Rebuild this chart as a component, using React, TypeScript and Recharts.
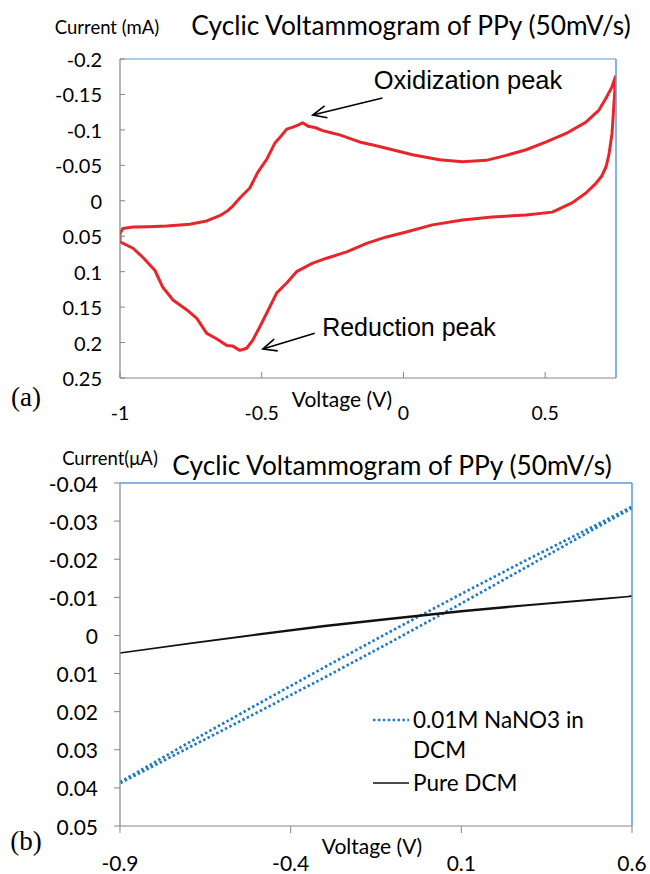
import React from 'react';
import { LineChart, Line, XAxis, YAxis, ReferenceLine, Legend } from 'recharts';

// ---------- (a) CV of PPy ----------
const cvVoltage = [
  -1.0, -0.99, -0.954, -0.9, -0.835, -0.754, -0.694, -0.648, -0.62, -0.602, -0.577, -0.542, -0.514, -0.483,
  -0.454, -0.43, -0.412, -0.39, -0.37, -0.356, -0.335, -0.31, -0.285, -0.255, -0.225, -0.155, -0.1, -0.06,
  0.032, 0.127, 0.208, 0.292, 0.363, 0.433, 0.504, 0.574, 0.644, 0.69, 0.715, 0.735, 0.748,
  0.745, 0.736, 0.725, 0.715, 0.7, 0.68, 0.644, 0.595, 0.525, 0.433, 0.313, 0.208, 0.102, 0.01, -0.06,
  -0.13, -0.2, -0.271, -0.32, -0.377, -0.412, -0.447, -0.483, -0.507, -0.532, -0.553, -0.577, -0.602,
  -0.623, -0.658, -0.694, -0.729, -0.764, -0.813, -0.849, -0.877, -0.919, -0.954, -1.0, -1.0,
];
const cvCurrent = [
  0.046, 0.039, 0.037, 0.0365, 0.0355, 0.033, 0.0285, 0.021, 0.014, 0.0075, -0.004, -0.018, -0.04, -0.058,
  -0.081, -0.092, -0.101, -0.104, -0.107, -0.11, -0.105, -0.103, -0.099, -0.096, -0.093, -0.083, -0.078, -0.074,
  -0.065, -0.058, -0.055, -0.057, -0.064, -0.072, -0.083, -0.095, -0.111, -0.128, -0.145, -0.16, -0.175,
  -0.15, -0.095, -0.065, -0.048, -0.035, -0.025, -0.011, 0.003, 0.016, 0.02, 0.023, 0.027, 0.034, 0.044, 0.051,
  0.06, 0.072, 0.081, 0.088, 0.1, 0.116, 0.13, 0.159, 0.178, 0.197, 0.208, 0.211, 0.205,
  0.204, 0.195, 0.187, 0.166, 0.154, 0.14, 0.122, 0.098, 0.08, 0.067, 0.058, 0.046,
];
const cvData = cvVoltage.map((v, k) => ({ v, i: cvCurrent[k] }));

const topXTicks = [-1, -0.5, 0, 0.5];
const topYTicks = [-0.2, -0.15, -0.1, -0.05, 0, 0.05, 0.1, 0.15, 0.2, 0.25];

// annotation arrows: [tail, tip] in data units (V, mA)
const oxArrow = [{ x: -0.074, y: -0.145 }, { x: -0.32, y: -0.121 }];
const redArrow = [{ x: -0.313, y: 0.187 }, { x: -0.496, y: 0.209 }];

// ---------- (b) NaNO3 vs pure DCM ----------
const naVoltage = [-0.9, -0.7, -0.5, -0.3, -0.1, 0.1, 0.3, 0.5, 0.6, 0.6, 0.5, 0.3, 0.1, -0.1, -0.3, -0.5, -0.7, -0.9];
const naCurrent = [
  0.0385, 0.0282, 0.0182, 0.0083, -0.0014, -0.0109, -0.0202, -0.0292, -0.0338,
  -0.0334, -0.0285, -0.0184, -0.0084, 0.0014, 0.011, 0.0203, 0.0295, 0.0388,
];
const naData = naVoltage.map((v, k) => ({ v, i: naCurrent[k] }));

const dcmVoltage = [-0.9, -0.7, -0.5, -0.3, -0.1, 0.1, 0.3, 0.5, 0.6, 0.6, 0.5, 0.3, 0.1, -0.1, -0.3, -0.5, -0.7, -0.9];
const dcmCurrent = [
  0.0046, 0.0021, -0.0003, -0.0026, -0.0046, -0.0065, -0.0081, -0.0096, -0.0103,
  -0.0103, -0.0094, -0.0079, -0.0062, -0.0043, -0.0023, -0.0001, 0.0022, 0.0046,
];
const dcmData = dcmVoltage.map((v, k) => ({ v, i: dcmCurrent[k] }));

const bottomXTicks = [-0.9, -0.4, 0.1, 0.6];
const bottomYTicks = [-0.04, -0.03, -0.02, -0.01, 0, 0.01, 0.02, 0.03, 0.04, 0.05];

const FONT = 'Lato, "Noto Sans", sans-serif';
const GRAY = '#868686';
const BLUE_BORDER = '#5b9bd5';

const makeXTick = (inward: boolean, labelOffset: number, size: number) => (p: any) => {
  const { x, y, payload } = p;
  return (
    <g>
      <line x1={x} y1={y} x2={x} y2={inward ? y - 6 : y + 7} stroke={GRAY} strokeWidth={1} />
      <text x={x} y={y + labelOffset} textAnchor="middle" dominantBaseline="central" fontFamily={FONT} fontSize={size} fill="#000">
        {String(payload.value)}
      </text>
    </g>
  );
};

const makeYTick = (inward: boolean, gap: number, size: number) => (p: any) => {
  const { x, y, payload } = p;
  return (
    <g>
      <line x1={x} y1={y} x2={inward ? x + 5 : x - 6} y2={y} stroke={GRAY} strokeWidth={1} />
      <text x={x - gap} y={y} textAnchor="end" dominantBaseline="central" fontFamily={FONT} fontSize={size} fill="#000">
        {String(payload.value)}
      </text>
    </g>
  );
};

const ArrowShape = (p: any) => {
  const { x1, y1, x2, y2 } = p;
  const ang = Math.atan2(y2 - y1, x2 - x1);
  const L = 15;
  const w = 0.42;
  const ax = x2 - L * Math.cos(ang - w);
  const ay = y2 - L * Math.sin(ang - w);
  const bx = x2 - L * Math.cos(ang + w);
  const by = y2 - L * Math.sin(ang + w);
  return (
    <g>
      <line x1={x1} y1={y1} x2={x2} y2={y2} stroke="#000" strokeWidth={1.6} />
      <polyline points={`${ax},${ay} ${x2},${y2} ${bx},${by}`} fill="none" stroke="#000" strokeWidth={1.6} />
    </g>
  );
};

const LegendContent = (props: any) => {
  const items = props.payload || [];
  return (
    <div style={{ fontFamily: FONT, fontSize: 22.5, lineHeight: '30px', color: '#000' }}>
      {items.map((it: any, k: number) => {
        const dash = it.payload && it.payload.strokeDasharray;
        const sw = (it.payload && it.payload.strokeWidth) || 1.5;
        return (
          <div key={k} style={{ display: 'flex', alignItems: 'flex-start', marginTop: k === 0 ? 0 : 3 }}>
            <svg width={41} height={30} style={{ flex: 'none' }}>
              <line x1={1} y1={15} x2={37} y2={15} stroke={it.color} strokeWidth={sw} strokeDasharray={dash} />
            </svg>
            <div style={{ width: 195 }}>{it.value}</div>
          </div>
        );
      })}
    </div>
  );
};

export default function App() {
  return (
    <div style={{ position: 'absolute', left: 0, top: 0, width: 650, height: 874, background: '#fff' }}>
      {/* (a) */}
      <div style={{ position: 'absolute', left: 0, top: 0 }}>
        <LineChart width={650} height={430} margin={{ top: 58, right: 33, bottom: 51, left: 119 }}>
          <XAxis xAxisId="top" orientation="top" type="number" dataKey="v" domain={[-1, 0.75]} height={1}
            axisLine={{ stroke: BLUE_BORDER, strokeWidth: 1.2 }} tick={false} tickLine={false} allowDataOverflow />
          <YAxis yAxisId="right" orientation="right" type="number" domain={[-0.2, 0.25]} width={1}
            axisLine={{ stroke: BLUE_BORDER, strokeWidth: 1.5 }} tick={false} tickLine={false} allowDataOverflow />
          <XAxis type="number" dataKey="v" domain={[-1, 0.75]} ticks={topXTicks} height={1}
            axisLine={{ stroke: GRAY, strokeWidth: 1.2 }} tickLine={false} tickSize={0} tickMargin={0}
            tick={makeXTick(true, 34, 19.5)} allowDataOverflow interval={0} />
          <YAxis type="number" domain={[-0.2, 0.25]} reversed ticks={topYTicks} width={1}
            axisLine={{ stroke: GRAY, strokeWidth: 1.2 }} tickLine={false} tickSize={0} tickMargin={0}
            tick={makeYTick(true, 18, 20)} allowDataOverflow interval={0} />
          <Line data={cvData} dataKey="i" type="linear" stroke="#e8262a" strokeWidth={3} dot={false}
            isAnimationActive={false} strokeLinejoin="round" />
          <ReferenceLine segment={oxArrow} shape={ArrowShape} ifOverflow="visible" />
          <ReferenceLine segment={redArrow} shape={ArrowShape} ifOverflow="visible" />
        </LineChart>
      </div>

      {/* (b) */}
      <div style={{ position: 'absolute', left: 0, top: 440 }}>
        <LineChart width={650} height={434} margin={{ top: 42, right: 17, bottom: 47, left: 119 }}>
          <XAxis xAxisId="top" orientation="top" type="number" dataKey="v" domain={[-0.9, 0.6]} height={1}
            axisLine={{ stroke: BLUE_BORDER, strokeWidth: 1.5 }} tick={false} tickLine={false} allowDataOverflow />
          <YAxis yAxisId="right" orientation="right" type="number" domain={[-0.04, 0.05]} width={1}
            axisLine={{ stroke: BLUE_BORDER, strokeWidth: 1.5 }} tick={false} tickLine={false} allowDataOverflow />
          <XAxis type="number" dataKey="v" domain={[-0.9, 0.6]} ticks={bottomXTicks} height={1}
            axisLine={{ stroke: GRAY, strokeWidth: 1.2 }} tickLine={false} tickSize={0} tickMargin={0}
            tick={makeXTick(false, 36, 21)} allowDataOverflow interval={0} />
          <YAxis type="number" domain={[-0.04, 0.05]} reversed ticks={bottomYTicks} width={1}
            axisLine={{ stroke: GRAY, strokeWidth: 1.2 }} tickLine={false} tickSize={0} tickMargin={0}
            tick={makeYTick(false, 22, 21)} allowDataOverflow interval={0} />
          <Line data={naData} dataKey="i" name="0.01M NaNO3 in DCM" type="linear" stroke="#1f7ac8" strokeWidth={2.7}
            strokeDasharray="2.5 2.4" dot={false} isAnimationActive={false} />
          <Line data={dcmData} dataKey="i" name="Pure DCM" type="linear" stroke="#111" strokeWidth={1.4}
            dot={false} isAnimationActive={false} />
          <Legend layout="vertical" align="center" verticalAlign="middle" content={LegendContent}
            wrapperStyle={{ position: 'absolute', left: 372, top: 265, width: 245, height: 100 }} />
        </LineChart>
      </div>

      {/* text overlay */}
      <svg width={650} height={874} style={{ position: 'absolute', left: 0, top: 0, pointerEvents: 'none' }}>
        <text x={107} y={27} textAnchor="middle" dominantBaseline="central" fontFamily={FONT} fontSize={18.5}>Current (mA)</text>
        <text x={411} y={25} textAnchor="middle" dominantBaseline="central" fontFamily={FONT} fontSize={26.3}>Cyclic Voltammogram of PPy (50mV/s)</text>
        <text x={342} y={398} textAnchor="middle" dominantBaseline="central" fontFamily={FONT} fontSize={21}>Voltage (V)</text>
        <text x={468} y={80} textAnchor="middle" dominantBaseline="central" fontFamily='"Liberation Sans", Arial, sans-serif' fontSize={25.5}>Oxidization peak</text>
        <text x={409} y={327} textAnchor="middle" dominantBaseline="central" fontFamily='"Liberation Sans", Arial, sans-serif' fontSize={25}>Reduction peak</text>
        <text x={26} y={397} textAnchor="middle" dominantBaseline="central" fontFamily='"Liberation Serif", "Times New Roman", serif' fontSize={27}>(a)</text>

        <text x={110} y={458} textAnchor="middle" dominantBaseline="central" fontFamily={FONT} fontSize={18.5}>Current(μA)</text>
        <text x={392} y={465} textAnchor="middle" dominantBaseline="central" fontFamily={FONT} fontSize={26.3}>Cyclic Voltammogram of PPy (50mV/s)</text>
        <text x={372} y={845} textAnchor="middle" dominantBaseline="central" fontFamily={FONT} fontSize={21}>Voltage (V)</text>
        <text x={26} y={841} textAnchor="middle" dominantBaseline="central" fontFamily='"Liberation Serif", "Times New Roman", serif' fontSize={27}>(b)</text>
      </svg>
    </div>
  );
}
